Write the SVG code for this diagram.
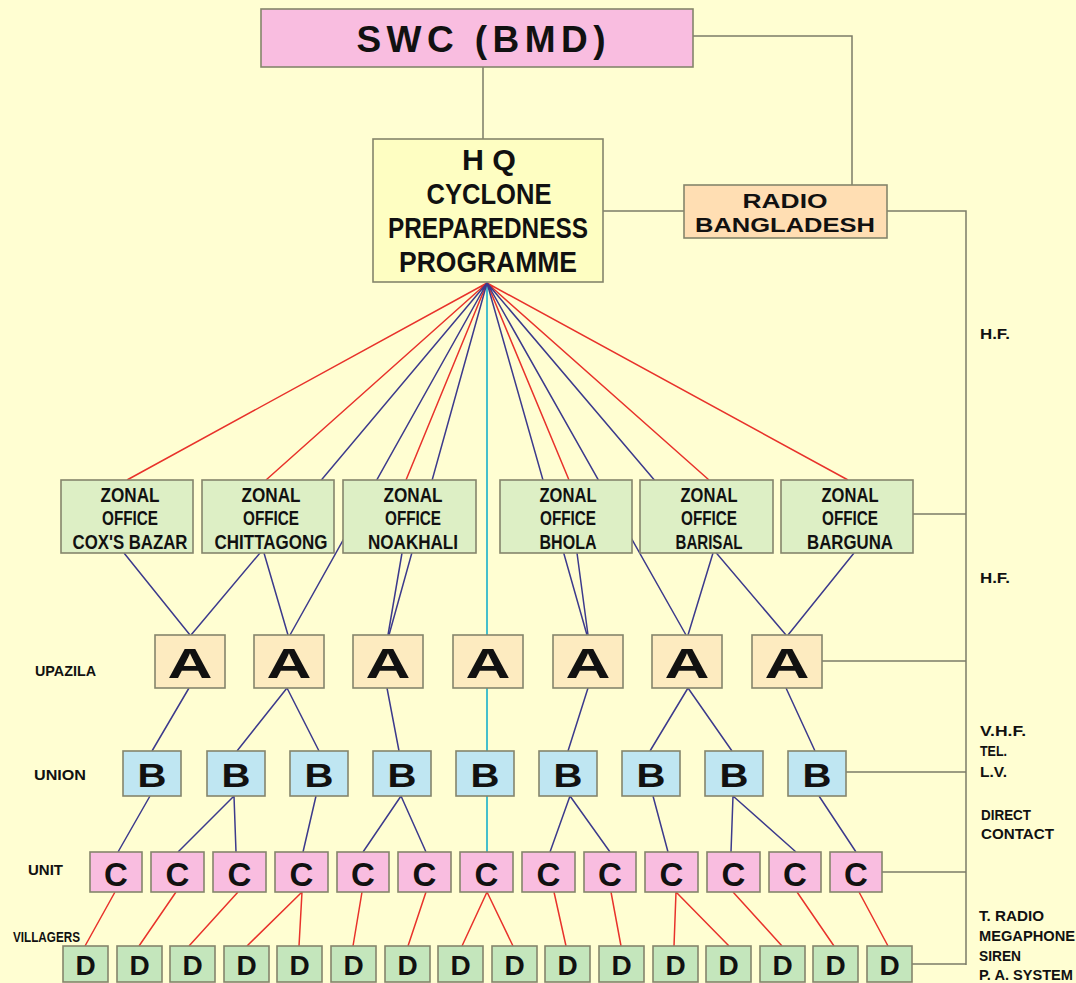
<svg xmlns="http://www.w3.org/2000/svg" width="1076" height="983" viewBox="0 0 1076 983">
<style>
text{font-family:"Liberation Sans",Arial,sans-serif;font-weight:bold;fill:#111;}
.box{stroke:#85856c;stroke-width:1.6;}
.swc{fill:#f9bde0}.hq{fill:#fefec2}.radio{fill:#ffdeb3}.zone{fill:#ddefc5}
.a{fill:#fdebc0}.b{fill:#bfe6f2}.c{fill:#f9bde0}.d{fill:#c4e6bc}
.gray{stroke:#7c7c68;stroke-width:1.5;fill:none}
.blue{stroke:#3c3a8c;stroke-width:1.5;fill:none}
.red{stroke:#e8322b;stroke-width:1.5;fill:none}
.cyan{stroke:#45bfcc;stroke-width:2;fill:none}
.zt{font-size:20px;text-anchor:middle}
.big{text-anchor:middle}
.lbl{font-size:15px}
</style>
<rect width="1076" height="983" fill="#fffed2"/>
<g id="connectors">
<path class="gray" d="M483 67V139M693 36H852V185M603 211H684M887 211H966V965M913 514H966M822 661H966M846 772H966M882 872H966M912 964H966"/>
<path class="cyan" d="M487 283V852"/>
<path class="red" d="M487 283L127 480M487 283L266 480M487 283L406 480M487 283L569 480M487 283L709 480M487 283L848 480"/>
<path class="blue" d="M487 283L191 635M487 283L290 635M487 283L389 635M487 283L587 635M487 283L686 635M487 283L786 635"/>
<path class="blue" d="M124 553L190 635M264 553L288 635M402 553L388 635M577 553L588 635M713 553L688 635M854 553L788 635"/>
<path class="blue" d="M189 688L152 751M287 688L237 751M287 688L319 751M387 688L399 751M588 688L568 751M688 688L650 751M688 688L732 751M786 688L815 751"/>
<path class="blue" d="M150 796L118 852M234 796L178 852M234 796L236 852M316 796L303 852M401 796L363 852M401 796L426 852M570 796L550 852M570 796L610 852M653 796L668 852M733 796L731 852M733 796L796 852M819 796L856 852"/>
<path class="red" d="M115 892L85 946M176 892L139 946M238 892L189 946M302 892L247 946M302 892L299 946M362 892L353 946M426 892L408 946M487 892L462 946M487 892L513 946M554 892L566 946M611 892L621 946M676 892L674 946M676 892L729 946M733 892L782 946M797 892L834 946M859 892L888 946"/>
</g>
<g id="swc"><rect class="box swc" x="261" y="9" width="432" height="58"/><text x="481" y="52" font-size="37" text-anchor="middle" textLength="249" lengthAdjust="spacing">SWC (BMD)</text></g>
<g id="hq"><rect class="box hq" x="373" y="139" width="230" height="143"/>
<text x="489" y="170" font-size="30" text-anchor="middle" textLength="54" lengthAdjust="spacingAndGlyphs">H Q</text>
<text x="489" y="204" font-size="30" text-anchor="middle" textLength="125" lengthAdjust="spacingAndGlyphs">CYCLONE</text>
<text x="488" y="238" font-size="30" text-anchor="middle" textLength="200" lengthAdjust="spacingAndGlyphs">PREPAREDNESS</text>
<text x="488" y="272" font-size="30" text-anchor="middle" textLength="178" lengthAdjust="spacingAndGlyphs">PROGRAMME</text></g>
<g id="radio"><rect class="box radio" x="684" y="185" width="203" height="53"/>
<text x="785" y="208" font-size="21" text-anchor="middle" textLength="85" lengthAdjust="spacingAndGlyphs">RADIO</text>
<text x="785" y="232" font-size="21" text-anchor="middle" textLength="180" lengthAdjust="spacingAndGlyphs">BANGLADESH</text></g>
<g id="zone-coxsbazar"><rect class="box zone" x="61" y="480" width="132" height="73"/>
<text class="zt" x="130" y="502" textLength="59" lengthAdjust="spacingAndGlyphs">ZONAL</text><text class="zt" x="130" y="525" textLength="56" lengthAdjust="spacingAndGlyphs">OFFICE</text><text class="zt" x="130" y="549" textLength="115" lengthAdjust="spacingAndGlyphs">COX'S BAZAR</text></g>
<g id="zone-chittagong"><rect class="box zone" x="202" y="480" width="132" height="73"/>
<text class="zt" x="271" y="502" textLength="59" lengthAdjust="spacingAndGlyphs">ZONAL</text><text class="zt" x="271" y="525" textLength="56" lengthAdjust="spacingAndGlyphs">OFFICE</text><text class="zt" x="271" y="549" textLength="113" lengthAdjust="spacingAndGlyphs">CHITTAGONG</text></g>
<g id="zone-noakhali"><rect class="box zone" x="343" y="480" width="133" height="73"/>
<text class="zt" x="413" y="502" textLength="59" lengthAdjust="spacingAndGlyphs">ZONAL</text><text class="zt" x="413" y="525" textLength="56" lengthAdjust="spacingAndGlyphs">OFFICE</text><text class="zt" x="413" y="549" textLength="90" lengthAdjust="spacingAndGlyphs">NOAKHALI</text></g>
<g id="zone-bhola"><rect class="box zone" x="500" y="480" width="132" height="73"/>
<text class="zt" x="568" y="502" textLength="57" lengthAdjust="spacingAndGlyphs">ZONAL</text><text class="zt" x="568" y="525" textLength="56" lengthAdjust="spacingAndGlyphs">OFFICE</text><text class="zt" x="568" y="549" textLength="57" lengthAdjust="spacingAndGlyphs">BHOLA</text></g>
<g id="zone-barisal"><rect class="box zone" x="640" y="480" width="133" height="73"/>
<text class="zt" x="709" y="502" textLength="57" lengthAdjust="spacingAndGlyphs">ZONAL</text><text class="zt" x="709" y="525" textLength="56" lengthAdjust="spacingAndGlyphs">OFFICE</text><text class="zt" x="709" y="549" textLength="67" lengthAdjust="spacingAndGlyphs">BARISAL</text></g>
<g id="zone-barguna"><rect class="box zone" x="781" y="480" width="132" height="73"/>
<text class="zt" x="850" y="502" textLength="57" lengthAdjust="spacingAndGlyphs">ZONAL</text><text class="zt" x="850" y="525" textLength="56" lengthAdjust="spacingAndGlyphs">OFFICE</text><text class="zt" x="850" y="549" textLength="86" lengthAdjust="spacingAndGlyphs">BARGUNA</text></g>
<g id="upazila-row">
<g id="a1"><rect class="box a" x="155" y="635" width="70" height="53"/><text class="big" x="190" y="678" font-size="43" textLength="45" lengthAdjust="spacingAndGlyphs">A</text></g>
<g id="a2"><rect class="box a" x="254" y="635" width="70" height="53"/><text class="big" x="289" y="678" font-size="43" textLength="45" lengthAdjust="spacingAndGlyphs">A</text></g>
<g id="a3"><rect class="box a" x="353" y="635" width="70" height="53"/><text class="big" x="388" y="678" font-size="43" textLength="45" lengthAdjust="spacingAndGlyphs">A</text></g>
<g id="a4"><rect class="box a" x="453" y="635" width="70" height="53"/><text class="big" x="488" y="678" font-size="43" textLength="45" lengthAdjust="spacingAndGlyphs">A</text></g>
<g id="a5"><rect class="box a" x="553" y="635" width="70" height="53"/><text class="big" x="588" y="678" font-size="43" textLength="45" lengthAdjust="spacingAndGlyphs">A</text></g>
<g id="a6"><rect class="box a" x="652" y="635" width="70" height="53"/><text class="big" x="687" y="678" font-size="43" textLength="45" lengthAdjust="spacingAndGlyphs">A</text></g>
<g id="a7"><rect class="box a" x="752" y="635" width="70" height="53"/><text class="big" x="787" y="678" font-size="43" textLength="45" lengthAdjust="spacingAndGlyphs">A</text></g>
</g>
<g id="union-row">
<g id="b1"><rect class="box b" x="123" y="751" width="58" height="45"/><text class="big" x="152" y="787" font-size="33" textLength="29" lengthAdjust="spacingAndGlyphs">B</text></g>
<g id="b2"><rect class="box b" x="207" y="751" width="58" height="45"/><text class="big" x="236" y="787" font-size="33" textLength="29" lengthAdjust="spacingAndGlyphs">B</text></g>
<g id="b3"><rect class="box b" x="290" y="751" width="58" height="45"/><text class="big" x="319" y="787" font-size="33" textLength="29" lengthAdjust="spacingAndGlyphs">B</text></g>
<g id="b4"><rect class="box b" x="373" y="751" width="58" height="45"/><text class="big" x="402" y="787" font-size="33" textLength="29" lengthAdjust="spacingAndGlyphs">B</text></g>
<g id="b5"><rect class="box b" x="456" y="751" width="58" height="45"/><text class="big" x="485" y="787" font-size="33" textLength="29" lengthAdjust="spacingAndGlyphs">B</text></g>
<g id="b6"><rect class="box b" x="539" y="751" width="58" height="45"/><text class="big" x="568" y="787" font-size="33" textLength="29" lengthAdjust="spacingAndGlyphs">B</text></g>
<g id="b7"><rect class="box b" x="622" y="751" width="58" height="45"/><text class="big" x="651" y="787" font-size="33" textLength="29" lengthAdjust="spacingAndGlyphs">B</text></g>
<g id="b8"><rect class="box b" x="705" y="751" width="58" height="45"/><text class="big" x="734" y="787" font-size="33" textLength="29" lengthAdjust="spacingAndGlyphs">B</text></g>
<g id="b9"><rect class="box b" x="788" y="751" width="58" height="45"/><text class="big" x="817" y="787" font-size="33" textLength="29" lengthAdjust="spacingAndGlyphs">B</text></g>
</g>
<g id="unit-row">
<g id="c1"><rect class="box c" x="90" y="852" width="52" height="40"/><text class="big" x="116" y="886" font-size="33">C</text></g>
<g id="c2"><rect class="box c" x="151" y="852" width="53" height="40"/><text class="big" x="177.5" y="886" font-size="33">C</text></g>
<g id="c3"><rect class="box c" x="213" y="852" width="53" height="40"/><text class="big" x="239.5" y="886" font-size="33">C</text></g>
<g id="c4"><rect class="box c" x="275" y="852" width="53" height="40"/><text class="big" x="301.5" y="886" font-size="33">C</text></g>
<g id="c5"><rect class="box c" x="337" y="852" width="52" height="40"/><text class="big" x="363" y="886" font-size="33">C</text></g>
<g id="c6"><rect class="box c" x="398" y="852" width="53" height="40"/><text class="big" x="424.5" y="886" font-size="33">C</text></g>
<g id="c7"><rect class="box c" x="460" y="852" width="53" height="40"/><text class="big" x="486.5" y="886" font-size="33">C</text></g>
<g id="c8"><rect class="box c" x="522" y="852" width="53" height="40"/><text class="big" x="548.5" y="886" font-size="33">C</text></g>
<g id="c9"><rect class="box c" x="584" y="852" width="52" height="40"/><text class="big" x="610" y="886" font-size="33">C</text></g>
<g id="c10"><rect class="box c" x="645" y="852" width="53" height="40"/><text class="big" x="671.5" y="886" font-size="33">C</text></g>
<g id="c11"><rect class="box c" x="707" y="852" width="53" height="40"/><text class="big" x="733.5" y="886" font-size="33">C</text></g>
<g id="c12"><rect class="box c" x="769" y="852" width="52" height="40"/><text class="big" x="795" y="886" font-size="33">C</text></g>
<g id="c13"><rect class="box c" x="830" y="852" width="52" height="40"/><text class="big" x="856" y="886" font-size="33">C</text></g>
</g>
<g id="villager-row">
<g id="d1"><rect class="box d" x="63" y="946" width="45" height="36"/><text class="big" x="85.5" y="975" font-size="28">D</text></g>
<g id="d2"><rect class="box d" x="117" y="946" width="45" height="36"/><text class="big" x="139.5" y="975" font-size="28">D</text></g>
<g id="d3"><rect class="box d" x="170" y="946" width="45" height="36"/><text class="big" x="192.5" y="975" font-size="28">D</text></g>
<g id="d4"><rect class="box d" x="224" y="946" width="45" height="36"/><text class="big" x="246.5" y="975" font-size="28">D</text></g>
<g id="d5"><rect class="box d" x="277" y="946" width="45" height="36"/><text class="big" x="299.5" y="975" font-size="28">D</text></g>
<g id="d6"><rect class="box d" x="331" y="946" width="45" height="36"/><text class="big" x="353.5" y="975" font-size="28">D</text></g>
<g id="d7"><rect class="box d" x="385" y="946" width="45" height="36"/><text class="big" x="407.5" y="975" font-size="28">D</text></g>
<g id="d8"><rect class="box d" x="438" y="946" width="45" height="36"/><text class="big" x="460.5" y="975" font-size="28">D</text></g>
<g id="d9"><rect class="box d" x="492" y="946" width="45" height="36"/><text class="big" x="514.5" y="975" font-size="28">D</text></g>
<g id="d10"><rect class="box d" x="545" y="946" width="45" height="36"/><text class="big" x="567.5" y="975" font-size="28">D</text></g>
<g id="d11"><rect class="box d" x="599" y="946" width="45" height="36"/><text class="big" x="621.5" y="975" font-size="28">D</text></g>
<g id="d12"><rect class="box d" x="653" y="946" width="45" height="36"/><text class="big" x="675.5" y="975" font-size="28">D</text></g>
<g id="d13"><rect class="box d" x="706" y="946" width="45" height="36"/><text class="big" x="728.5" y="975" font-size="28">D</text></g>
<g id="d14"><rect class="box d" x="760" y="946" width="45" height="36"/><text class="big" x="782.5" y="975" font-size="28">D</text></g>
<g id="d15"><rect class="box d" x="813" y="946" width="45" height="36"/><text class="big" x="835.5" y="975" font-size="28">D</text></g>
<g id="d16"><rect class="box d" x="867" y="946" width="45" height="36"/><text class="big" x="889.5" y="975" font-size="28">D</text></g>
</g>
<g id="level-labels">
<text class="lbl" x="35" y="676" textLength="61" lengthAdjust="spacingAndGlyphs">UPAZILA</text>
<text class="lbl" x="34" y="780" textLength="52" lengthAdjust="spacingAndGlyphs">UNION</text>
<text class="lbl" x="28" y="875" textLength="35" lengthAdjust="spacingAndGlyphs">UNIT</text>
<text class="lbl" x="13" y="942" textLength="67" lengthAdjust="spacingAndGlyphs">VILLAGERS</text>
</g>
<g id="media-labels">
<text class="lbl" x="980" y="339" textLength="30" lengthAdjust="spacingAndGlyphs">H.F.</text>
<text class="lbl" x="980" y="583" textLength="30" lengthAdjust="spacingAndGlyphs">H.F.</text>
<text class="lbl" x="980" y="736" textLength="46" lengthAdjust="spacingAndGlyphs">V.H.F.</text>
<text class="lbl" x="980" y="756" textLength="27" lengthAdjust="spacingAndGlyphs">TEL.</text>
<text class="lbl" x="980" y="777" textLength="27" lengthAdjust="spacingAndGlyphs">L.V.</text>
<text class="lbl" x="981" y="820" textLength="50" lengthAdjust="spacingAndGlyphs">DIRECT</text>
<text class="lbl" x="981" y="839" textLength="73" lengthAdjust="spacingAndGlyphs">CONTACT</text>
<text class="lbl" x="979" y="921" textLength="65" lengthAdjust="spacingAndGlyphs">T. RADIO</text>
<text class="lbl" x="979" y="941" textLength="96" lengthAdjust="spacingAndGlyphs">MEGAPHONE</text>
<text class="lbl" x="979" y="961" textLength="42" lengthAdjust="spacingAndGlyphs">SIREN</text>
<text class="lbl" x="979" y="980" textLength="94" lengthAdjust="spacingAndGlyphs">P. A. SYSTEM</text>
</g>
</svg>
